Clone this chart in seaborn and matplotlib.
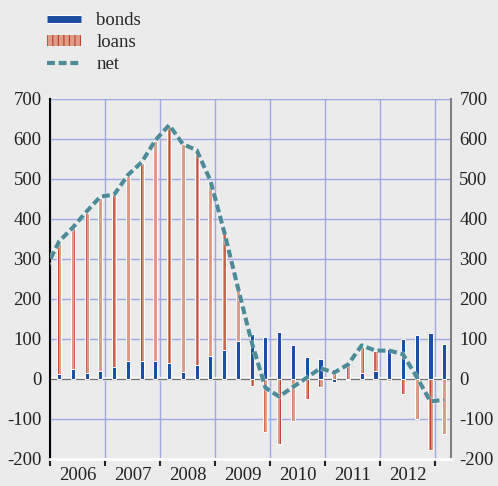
import numpy as np
import matplotlib
matplotlib.use('Agg')
import matplotlib.pyplot as plt
import matplotlib.patheffects as pe
from matplotlib.lines import Line2D
from matplotlib.patches import Patch
import seaborn as sns

# quarterly flows, 2006Q1 .. 2013Q1
quarters = [f'{y}Q{q}' for y in range(2006, 2013) for q in range(1, 5)] + ['2013Q1']
bonds = [12, 25, 16, 21, 30, 46, 44, 44, 40, 17, 36, 58, 72, 94, 112, 104,
         118, 84, 55, 51, -8, -2, 15, 19, 75, 100, 111, 116, 87]
loans = [328, 352, 400, 431, 431, 461, 496, 550, 592, 570, 533, 434, 293, 133, -18, -133,
         -162, -104, -50, -20, 25, 40, 66, 50, -4, -37, -99, -177, -137]
# net line starts one quarter earlier (2005Q4), clipped by the axis
net_quarters = ['2005Q4'] + quarters
net = [275, 344, 379, 419, 456, 461, 510, 542, 597, 635, 587, 572, 496, 368, 228, 92,
       -22, -44, -20, 3, 27, 16, 36, 84, 71, 71, 62, 5, -56, -52]
years = list(range(2006, 2013))
yticks = list(range(-200, 701, 100))

BLUE = '#1c4fa3'
SALMON = '#dc9d89'
RED = '#c2432e'
TEAL = '#4d8b98'
BG = '#ebebeb'
GRID = '#9ea8e2'


def qpos(label):
    y, q = label.split('Q')
    return int(y) + (3 * int(q) - 1) / 12


def main():
    sns.set_theme(style='white', rc={'axes.facecolor': BG, 'figure.facecolor': BG})
    plt.rcParams['font.family'] = ['Liberation Serif', 'DejaVu Serif']
    plt.rcParams['hatch.linewidth'] = 0.9

    x = np.array([qpos(q) for q in quarters])
    xn = np.array([qpos(q) for q in net_quarters])
    b = np.array(bonds, dtype=float)
    l = np.array(loans, dtype=float)

    # diverging stack: positives pile up from zero, negatives go down from zero
    l_bottom = np.where((l >= 0) & (b > 0), b, 0)
    l_bottom = np.where((l < 0) & (b < 0), b, l_bottom)

    fig = plt.figure(figsize=(4.98, 4.86), dpi=100)
    ax = fig.add_axes([0.1004, 0.0556, 0.8052, 0.7407])
    ax.set_axisbelow(True)

    w = 0.075
    ax.bar(x, b, width=w, color=BLUE, edgecolor='white', linewidth=0.7, zorder=3)
    ax.bar(x, l, width=w, bottom=l_bottom, facecolor=SALMON, edgecolor=RED,
           hatch='|||', linewidth=0, zorder=3)
    ax.bar(x, l, width=w, bottom=l_bottom, fill=False, edgecolor='white',
           linewidth=0.7, zorder=3)

    ax.axhline(0, color='white', lw=2.6, zorder=2)
    ax.axhline(0, color='#707070', lw=1.0, zorder=2.5)

    sns.lineplot(x=xn, y=net, ax=ax, color=TEAL, lw=3.0, zorder=4,
                 path_effects=[pe.Stroke(linewidth=3.8, foreground='white', alpha=0.6), pe.Normal()])
    ax.lines[-1].set_dashes((1.9, 0.9))

    ax.set_xlim(2006, 2013.29)
    ax.set_ylim(-200, 700)
    ax.set_yticks(yticks)
    ax.set_yticklabels([str(t) for t in yticks])
    ax.tick_params(axis='y', length=0, pad=6, labelsize=13.5, labelright=True,
                   labelcolor='#222222')

    ax.set_xticks(years + [2013])
    ax.set_xticklabels([])
    ax.set_xticks([y + 0.5 for y in years], minor=True)
    ax.set_xticklabels([str(y) for y in years], minor=True)
    ax.tick_params(axis='x', which='major', length=5, width=1.5, color='#222222',
                   direction='out', bottom=True)
    ax.tick_params(axis='x', which='minor', length=0, pad=6, labelsize=13.5,
                   labelcolor='#222222')

    ax.grid(True, which='major', color=GRID, lw=1.0)
    ax.grid(False, which='minor')

    ax.spines['left'].set_color('black')
    ax.spines['left'].set_linewidth(1.5)
    ax.spines['right'].set_color('#808080')
    ax.spines['right'].set_linewidth(1.5)
    ax.spines['bottom'].set_color('white')
    ax.spines['bottom'].set_linewidth(2)
    ax.spines['top'].set_visible(False)

    handles = [
        Line2D([], [], color=BLUE, lw=5, solid_capstyle='butt',
               path_effects=[pe.Stroke(linewidth=6.5, foreground='white'), pe.Normal()]),
        Patch(facecolor=SALMON, edgecolor=RED, hatch='|||', linewidth=0),
        Line2D([], [], color=TEAL, lw=3.0, dashes=(1.9, 0.9)),
    ]
    fig.legend(handles, ['bonds', 'loans', 'net'], loc='upper left',
               bbox_to_anchor=(0.094, 0.975), frameon=False, fontsize=13.5,
               handlelength=1.8, handleheight=0.5, handletextpad=0.85,
               labelspacing=0.25, borderpad=0, borderaxespad=0)

    fig.savefig('out.png', dpi=100, facecolor=BG)


if __name__ == '__main__':
    main()
